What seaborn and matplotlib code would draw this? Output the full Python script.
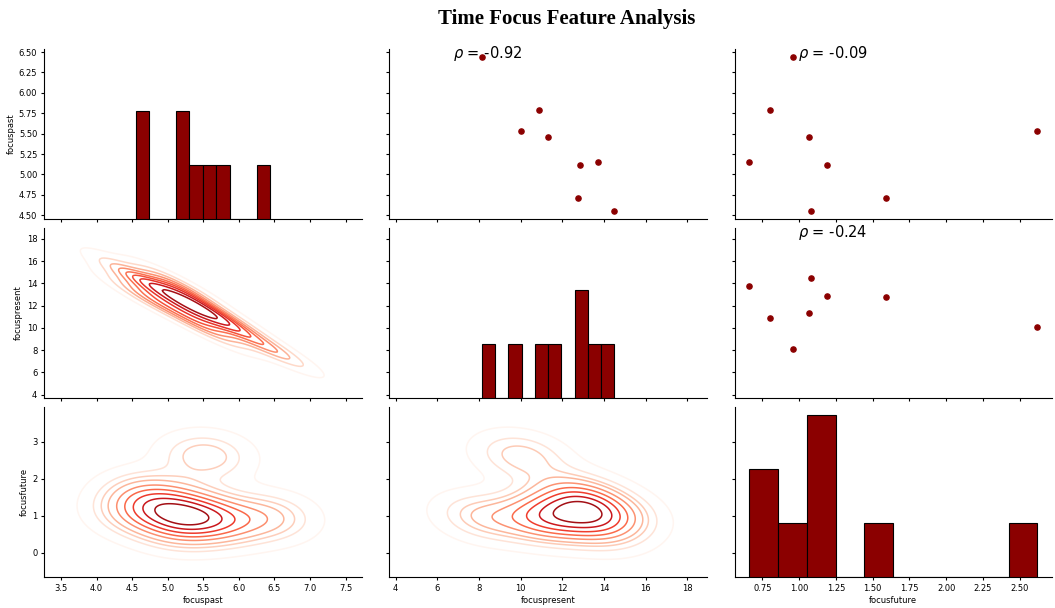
import numpy as np
import pandas as pd
import matplotlib
matplotlib.use("Agg")
import matplotlib.pyplot as plt
import seaborn as sns

focuspast = [6.44, 5.79, 5.53, 5.46, 5.12, 5.15, 4.71, 4.55]
focuspresent = [8.14, 10.90, 10.03, 11.33, 12.84, 13.73, 12.78, 14.50]
focusfuture = [0.96, 0.80, 2.62, 1.07, 1.19, 0.66, 1.59, 1.08]

df = pd.DataFrame({
    "focuspast": focuspast,
    "focuspresent": focuspresent,
    "focusfuture": focusfuture,
})

plt.rcParams.update({
    "xtick.labelsize": 6,
    "ytick.labelsize": 6,
    "axes.labelsize": 6,
    "axes.labelpad": 2.5,
    "xtick.major.size": 2.5,
    "ytick.major.size": 2.5,
    "xtick.major.pad": 2.5,
    "ytick.major.pad": 2.5,
    "axes.linewidth": 0.8,
})


def corrfunc(x, y, **kws):
    r = np.corrcoef(x, y)[0, 1]
    ax = plt.gca()
    ax.annotate("$\\rho$ = {:.2f}".format(r), xy=(.2, .95),
                xycoords=ax.transAxes, fontsize=10.5)


g = sns.PairGrid(df)
g.figure.set_size_inches(10.55, 6.08)
g.map_upper(plt.scatter, color="darkred", s=14)
g.map_upper(corrfunc)
g.map_lower(sns.kdeplot, cmap="Reds", linewidths=1.1)
g.map_diag(plt.hist, color="darkred", edgecolor="black", linewidth=0.8)

g.figure.subplots_adjust(left=0.042, right=0.997, bottom=0.051, top=0.919,
                         wspace=0.088, hspace=0.056)
g.figure.suptitle("Time Focus Feature Analysis", x=0.537, y=0.985, va="top",
                  fontfamily="Liberation Serif", fontweight="bold", fontsize=15)

g.figure.savefig("out.png", dpi=100)
